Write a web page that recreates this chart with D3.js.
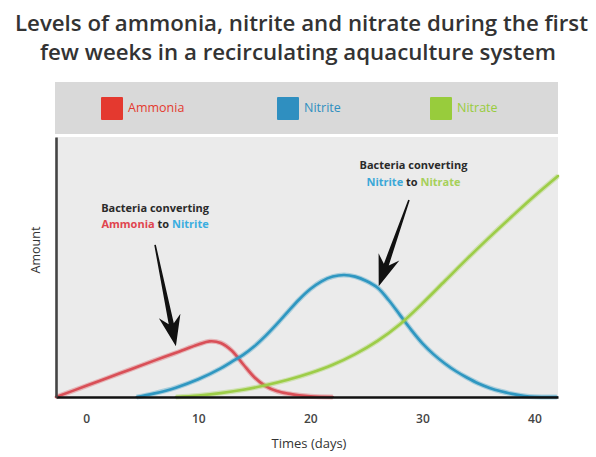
<!DOCTYPE html>
<html>
<head>
<meta charset="utf-8">
<script src="https://cdn.jsdelivr.net/npm/d3@7/dist/d3.min.js"></script>
<style>
  html, body { margin: 0; padding: 0; background: #ffffff; }
  svg { display: block; }
  text { font-family: "Open Sans", "Noto Sans", sans-serif; }
</style>
</head>
<body>
<svg id="chart" width="596" height="457"></svg>
<script>
// ---------- data ----------
const titleLines = [
  "Levels of ammonia, nitrite and nitrate during the first",
  "few weeks in a recirculating aquaculture system"
];
const seriesNames = ["Ammonia", "Nitrite", "Nitrate"];
const seriesColors = ["#d94f57", "#2f97c1", "#9dcd48"];
const legendColors = ["#e4392f", "#2f8fc0", "#98cc3c"];
const xTicks = [0, 10, 20, 30, 40];
const xLabel = "Times (days)";
const yLabel = "Amount";

const ammoniaDays   = [-2.7, 0, 2, 4, 6, 8, 10, 11, 12, 13, 14, 15, 16, 17, 18, 19, 20, 22];
const ammoniaValues = [0, 4.3, 7.5, 10.7, 13.9, 17.0, 20.2, 21.4, 20.8, 17.8, 12.6, 7.6, 4.2, 2.3, 1.3, 0.7, 0.3, 0];

const nitriteDays   = [4.5, 6, 8, 10, 12, 13, 14, 15, 16, 17, 18, 19, 20, 21, 22, 23, 24, 25, 26, 27, 28, 29, 30, 31, 32, 33, 34, 35, 36, 37, 38, 39, 40, 42];
const nitriteValues = [0, 1.3, 3.6, 6.8, 11.0, 13.6, 16.2, 19.5, 23.5, 28.0, 32.8, 37.5, 41.5, 44.5, 46.3, 46.9, 46.3, 44.6, 42.0, 37.2, 31.5, 25.8, 20.6, 16.4, 12.9, 9.9, 7.4, 5.2, 3.5, 2.2, 1.2, 0.5, 0.1, 0];

const nitrateDays   = [8, 10, 12, 14, 16, 18, 20, 22, 24, 26, 28, 30, 32, 34, 36, 38, 40, 42.1];
const nitrateValues = [0, 0.6, 1.5, 2.8, 4.5, 6.6, 9.2, 12.4, 16.5, 21.6, 28.0, 36.0, 44.6, 53.2, 61.5, 69.5, 77.3, 85.0];

// annotations (data units)
const annotations = [
  { lines: [[["Bacteria converting", "#2a2a2a"]], [["Ammonia", "#e0444e"], [" to ", "#2a2a2a"], ["Nitrite", "#3aaee0"]]],
    textDay: 6.14, textVals: [72.7, 66.5], tail: [6.14, 58.5], tip: [8.0, 19.5] },
  { lines: [[["Bacteria converting", "#2a2a2a"]], [["Nitrite", "#3aa8d8"], [" to ", "#2a2a2a"], ["Nitrate", "#a6d05a"]]],
    textDay: 29.2, textVals: [89.2, 82.7], tail: [28.8, 75.8], tip: [26.1, 42.6] }
];

// ---------- layout ----------
const svg = d3.select("#chart");
const plot = { left: 56, right: 558, top: 137, bottom: 397 };

const x = d3.scaleLinear().domain([-2.7, 42.1]).range([plot.left, plot.right]);
const y = d3.scaleLinear().domain([0, 100]).range([plot.bottom, plot.top]);

// title
const titleY = [31, 60];
const titleW = [[15, 588], [40, 556]];
titleLines.forEach((t, i) => {
  svg.append("text")
    .attr("x", titleW[i][0]).attr("y", titleY[i])
    .attr("textLength", titleW[i][1] - titleW[i][0])
    .attr("lengthAdjust", "spacingAndGlyphs")
    .attr("font-size", 22).attr("font-weight", 600)
    .attr("fill", "#333333")
    .text(t);
});

// legend band
svg.append("rect").attr("x", 55).attr("y", 82).attr("width", 503).attr("height", 52).attr("fill", "#d9d9d9");
const legendX = [101, 277, 430];
seriesNames.forEach((n, i) => {
  svg.append("rect").attr("x", legendX[i]).attr("y", 97).attr("width", 22).attr("height", 23)
    .attr("fill", legendColors[i]).attr("rx", 1);
  svg.append("text").attr("x", legendX[i] + 27).attr("y", 108).attr("dy", "0.35em")
    .attr("font-size", 12.5).attr("fill", legendColors[i]).text(n);
});

// plot background
svg.append("rect").attr("x", plot.left).attr("y", plot.top)
  .attr("width", plot.right - plot.left).attr("height", plot.bottom - plot.top)
  .attr("fill", "#ebebeb");

// lines
const line = d3.line().x(d => x(d[0])).y(d => y(Math.max(0, d[1]))).curve(d3.curveCatmullRom.alpha(0.5));
const series = [
  d3.zip(ammoniaDays, ammoniaValues),
  d3.zip(nitriteDays, nitriteValues),
  d3.zip(nitrateDays, nitrateValues)
];
const g = svg.append("g");
series.forEach((s, i) => {
  g.append("path").datum(s).attr("d", line).attr("fill", "none")
    .attr("stroke", seriesColors[i]).attr("stroke-opacity", 0.35).attr("stroke-width", 5);
  g.append("path").datum(s).attr("d", line).attr("fill", "none")
    .attr("stroke", seriesColors[i]).attr("stroke-width", 2.6).attr("stroke-linecap", "round");
});

// axes
const xAxis = svg.append("g").attr("transform", `translate(0,${plot.bottom})`)
  .call(d3.axisBottom(x).tickValues(xTicks).tickSize(0).tickSizeOuter(0).tickPadding(17));
xAxis.select(".domain").attr("stroke", "#111").attr("stroke-width", 2.6);
xAxis.selectAll("text").attr("font-size", 12).attr("font-weight", 600).attr("fill", "#444")
  .attr("font-family", "'Open Sans', sans-serif");

const yAxis = svg.append("g").attr("transform", `translate(${plot.left},0)`)
  .call(d3.axisLeft(y).tickValues([]).tickSize(0).tickSizeOuter(0));
yAxis.select(".domain").attr("stroke", "#444").attr("stroke-width", 2.6);

svg.append("text").attr("x", 309).attr("y", 443).attr("dy", "0.35em").attr("text-anchor", "middle")
  .attr("font-size", 13).attr("fill", "#333").text(xLabel);
svg.append("text").attr("transform", "translate(36,250) rotate(-90)").attr("dy", "0.35em")
  .attr("text-anchor", "middle").attr("font-size", 12.5).attr("fill", "#333").text(yLabel);

// annotations
function arrowPath(tail, tip) {
  const dx = tip[0] - tail[0], dy = tip[1] - tail[1];
  const L = Math.hypot(dx, dy);
  const ux = dx / L, uy = dy / L, nx = -uy, ny = ux;
  const headLen = 31, headHalf = 11, tailHalf = 0.8, neckHalf = 2.6, notch = 8;
  const bx = tip[0] - ux * headLen, by = tip[1] - uy * headLen;
  const cx = tip[0] - ux * (headLen - notch), cy = tip[1] - uy * (headLen - notch);
  const p = [
    [tail[0] + nx * tailHalf, tail[1] + ny * tailHalf],
    [cx + nx * neckHalf, cy + ny * neckHalf],
    [bx + nx * headHalf, by + ny * headHalf],
    tip,
    [bx - nx * headHalf, by - ny * headHalf],
    [cx - nx * neckHalf, cy - ny * neckHalf],
    [tail[0] - nx * tailHalf, tail[1] - ny * tailHalf]
  ];
  return "M" + p.map(q => q.join(",")).join("L") + "Z";
}
annotations.forEach(a => {
  a.lines.forEach((parts, li) => {
    const t = svg.append("text").attr("x", x(a.textDay)).attr("y", y(a.textVals[li])).attr("dy", "0.35em")
      .attr("text-anchor", "middle").attr("font-size", 11).attr("font-weight", 700);
    parts.forEach(p => t.append("tspan").attr("fill", p[1]).text(p[0]));
  });
  svg.append("path")
    .attr("d", arrowPath([x(a.tail[0]), y(a.tail[1])], [x(a.tip[0]), y(a.tip[1])]))
    .attr("fill", "#111");
});
</script>
</body>
</html>
